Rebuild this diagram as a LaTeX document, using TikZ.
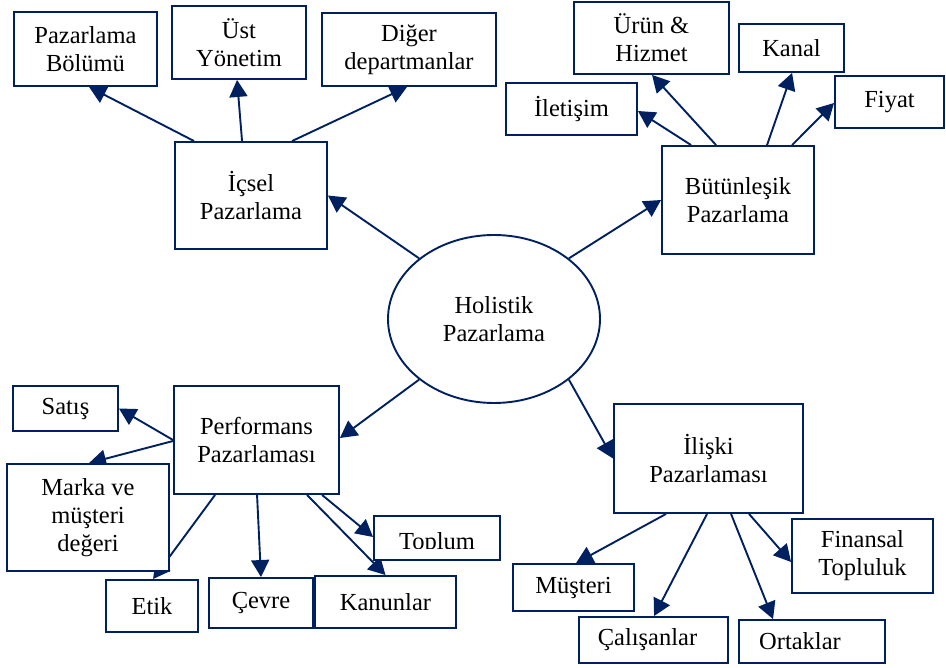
\documentclass[tikz,border=0pt]{standalone}
\usepackage{fontspec}
\setmainfont{Liberation Serif}
\usetikzlibrary{arrows.meta,shapes.geometric,calc,backgrounds}
\definecolor{navy}{RGB}{0,32,96}
\begin{document}
\begin{tikzpicture}[x=1pt,y=-1pt,
  box/.style={draw=navy,line width=1.9pt,fill=white,inner sep=0pt,align=center,
    font=\fontsize{24.5}{28}\selectfont,text=black},
  conn/.style={draw=navy,line width=1.9pt,-{Triangle[length=17pt,width=18pt]}}]
\useasboundingbox (0,0) rectangle (946,668);
% central ellipse
\node[box,ellipse,minimum width=212pt,minimum height=168pt] (hol) at (494,319) {Holistik\\Pazarlama};
% internal marketing
\node[box,minimum width=143pt,minimum height=74pt] (bol) at (85.5,49) {Pazarlama\\Bölümü};
\node[box,minimum width=134pt,minimum height=73pt] (ust) at (239,42.5) {Üst\\Yönetim};
\node[box,minimum width=174pt,minimum height=73pt] (dig) at (409,49.5) {Diğer\\departmanlar};
\node[box,minimum width=152pt,minimum height=107pt] (ics) at (251,195.5) {İçsel\\Pazarlama};
% integrated marketing
\node[box,minimum width=155pt,minimum height=72pt] (urun) at (651.5,38) {Ürün \&\\Hizmet};
\node[box,minimum width=105pt,minimum height=48pt] (kanal) at (791.5,48) {Kanal};
\node[box,minimum width=131pt,minimum height=52pt] (ilet) at (571.5,109) {İletişim};
\node[box,minimum width=109pt,minimum height=52pt] (fiyat) at (889.5,102) {Fiyat};
\node[box,minimum width=152pt,minimum height=108pt] (but) at (738,200) {Bütünleşik\\Pazarlama};
% performance marketing
\node[box,minimum width=105pt,minimum height=45pt] (sat) at (65.5,408.5) {Satış};
\node[box,minimum width=165pt,minimum height=108pt] (perf) at (256.5,440) {Performans\\Pazarlaması};
\node[box,minimum width=162pt,minimum height=107pt] (mar) at (88,517.5) {Marka ve\\müşteri\\değeri};
\node[box,minimum width=92pt,minimum height=52pt] (etik) at (152,606) {Etik};
\node[box,minimum width=104pt,minimum height=50pt] (cevre) at (261,603) {Çevre};
\node[box,minimum width=141pt,minimum height=52pt] (kan) at (385.5,602) {Kanunlar};
\node[box,minimum width=126pt,minimum height=44pt] (top) at (437,538) {};
\begin{scope}
  \clip (375,517) rectangle (499,548.5);
  \node[font=\fontsize{24.5}{28}\selectfont,inner sep=0pt,anchor=base] (toptext) at (437,549) {Toplum};
\end{scope}
% relationship marketing
\node[box,minimum width=189pt,minimum height=109pt] (ilis) at (708.5,458.5) {İlişki\\Pazarlaması};
\node[box,minimum width=121pt,minimum height=47pt] (mus) at (573.5,587.5) {Müşteri};
\node[box,minimum width=149pt,minimum height=46pt] (cal) at (653.5,640) {Çalışanlar\kern12pt};
\node[box,minimum width=146pt,minimum height=43pt] (ort) at (812,641.5) {\raisebox{-3pt}{Ortaklar}\kern24pt};
\node[box,minimum width=141pt,minimum height=74pt] (fin) at (862.5,556) {Finansal\\Topluluk};
% connectors
\begin{scope}[on background layer]
  \draw[conn] (hol.141) -- (ics.east);
  \draw[conn] (hol.39) -- (but.west);
  \draw[conn] (hol.219) -- ($(perf.east)+(0,-2)$);
  \draw[conn] (hol.321) -- (ilis.west);
  \draw[conn] ($(ics.north west)+(20,0)$) -- ($(bol.south west)+(76,0)$);
  \draw[conn] ($(ics.north west)+(68,0)$) -- ($(ust.south west)+(66,0)$);
  \draw[conn] ($(ics.north west)+(118,0)$) -- ($(dig.south west)+(86,0)$);
  \draw[conn] ($(but.north west)+(30,0)$) -- ($(ilet.east)+(0,2)$);
  \draw[conn] ($(but.north west)+(55,0)$) -- ($(urun.south west)+(79,0)$);
  \draw[conn] ($(but.north west)+(106,0)$) -- ($(kanal.south west)+(54,0)$);
  \draw[conn] ($(but.north west)+(131,0)$) -- ($(fiyat.west)+(0,1)$);
  \draw[conn] (perf.west) -- (sat.east);
  \draw[conn] ($(perf.west)+(0,1)$) -- ($(mar.north west)+(83,0)$);
  \draw[conn] ($(perf.south west)+(42,0)$) -- ($(etik.north west)+(48,0)$);
  \draw[conn] ($(perf.south west)+(84,0)$) -- (cevre.north);
  \draw[conn] ($(perf.south west)+(149,0)$) -- ($(top.west)+(0,-1)$);
  \draw[conn] ($(perf.south west)+(134,0)$) -- (kan.north);
  \draw[conn] ($(ilis.south west)+(53,0)$) -- ($(mus.north west)+(64,0)$);
  \draw[conn] ($(ilis.south west)+(94,0)$) -- ($(cal.north west)+(76,0)$);
  \draw[conn] ($(ilis.south west)+(118,0)$) -- ($(ort.north west)+(35,0)$);
  \draw[conn] ($(ilis.south west)+(136,0)$) -- ($(fin.west)+(0,6)$);
\end{scope}
\end{tikzpicture}
\end{document}
